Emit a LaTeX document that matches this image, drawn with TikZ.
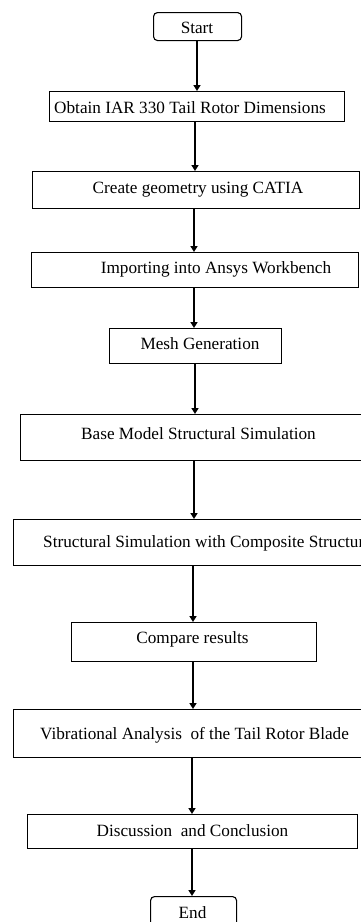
\documentclass[tikz,border=0pt]{standalone}
\usepackage{fontspec}
\setmainfont{Liberation Serif}
\usetikzlibrary{arrows.meta}
\begin{document}
\begin{tikzpicture}[x=1pt,y=-1pt,
  box/.style={draw, line width=1.1pt, inner sep=0pt, anchor=north west},
  term/.style={box, rounded corners=4pt},
  lbl/.style={inner sep=0pt, anchor=base, font=\fontsize{17.2}{19}\selectfont},
  lblw/.style={lbl, anchor=base west},
  arr/.style={line width=1.5pt, -{Triangle[length=6pt,width=7pt]}}]
\useasboundingbox (0,0) rectangle (361,922);
\clip (0,0) rectangle (361,922);

% boxes
\node[term, minimum width=88pt,  minimum height=28pt] (start)   at (153,12)  {};
\node[box,  minimum width=295pt, minimum height=30pt] (obtain)  at (49,91)   {};
\node[box,  minimum width=327pt, minimum height=37pt] (create)  at (32,171)  {};
\node[box,  minimum width=327pt, minimum height=35pt] (import)  at (31,252)  {};
\node[box,  minimum width=172pt, minimum height=35pt] (mesh)    at (109,328) {};
\node[box,  minimum width=360pt, minimum height=46pt] (base)    at (20,414)  {};
\node[box,  minimum width=370pt, minimum height=46pt] (struct)  at (13,519)  {};
\node[box,  minimum width=245pt, minimum height=39pt] (compare) at (71,622)  {};
\node[box,  minimum width=370pt, minimum height=48pt] (vib)     at (13,709)  {};
\node[box,  minimum width=330pt, minimum height=34pt] (disc)    at (27,814)  {};
\node[term, minimum width=86pt,  minimum height=32pt] (end)     at (150,896) {};

% labels
\node[lbl]  (start-t)   at (197,33)   {Start};
\node[lblw] (obtain-t)  at (54,113)   {Obtain IAR 330 Tail Rotor Dimensions};
\node[lbl]  (create-t)  at (198,193)  {Create geometry using CATIA};
\node[lbl]  (import-t)  at (216,273)  {Importing into Ansys Workbench};
\node[lbl]  (mesh-t)    at (200,349)  {Mesh Generation};
\node[lbl]  (base-t)    at (198.5,439) {Base Model Structural Simulation};
\node[lblw] (struct-t)  at (43,547)   {Structural Simulation with Composite Structure};
\node[lbl]  (compare-t) at (192.5,643) {Compare results};
\node[lblw] (vib-t)     at (40,739)   {Vibrational Analysis\ \ of the Tail Rotor Blade};
\node[lbl]  (disc-t)    at (192.5,836) {Discussion\ \ and Conclusion};
\node[lbl]  (end-t)     at (192.5,918) {End};

% connector columns
\coordinate (c1) at (197,0);
\coordinate (c2) at (195,0);
\coordinate (c3) at (194,0);
\coordinate (c4) at (193,0);
\coordinate (c5) at (192,0);

% connectors
\draw[arr] (start.south -| c1)   -- (obtain.north -| c1);
\draw[arr] (obtain.south -| c2)  -- (create.north -| c2);
\draw[arr] (create.south -| c3)  -- (import.north -| c3);
\draw[arr] (import.south -| c3)  -- (mesh.north -| c3);
\draw[arr] (mesh.south -| c2)    -- (base.north -| c2);
\draw[arr] (base.south -| c3)    -- (struct.north -| c3);
\draw[arr] (struct.south -| c4)  -- (compare.north -| c4);
\draw[arr] (compare.south -| c4) -- (vib.north -| c4);
\draw[arr] (vib.south -| c5)     -- (disc.north -| c5);
\draw[arr] (disc.south -| c5)    -- (end.north -| c5);
\end{tikzpicture}
\end{document}
